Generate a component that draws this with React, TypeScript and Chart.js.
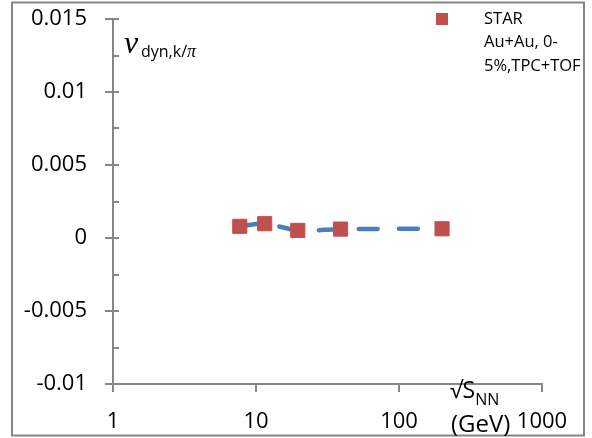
import { useEffect, useRef } from "react";
import { Chart, registerables } from "chart.js";

Chart.register(...registerables);

// ---- data ----
const energies = [7.7, 11.5, 19.6, 39, 200];
const nuDyn = [0.0008, 0.00098, 0.00052, 0.00061, 0.00063];
const xTicks = [1, 10, 100, 1000];
const xTickLabels = ["1", "10", "100", "1000"];
const yTicks = [-0.01, -0.005, 0, 0.005, 0.01, 0.015];
const yTickLabels = ["-0.01", "-0.005", "0", "0.005", "0.01", "0.015"];
const legendLines = ["STAR", "Au+Au, 0-", "5%,TPC+TOF"];

const AXIS = "#868686";
const RED = "#c0504d";
const BLUE = "#4a7ebb";
const FONT = "'Open Sans', 'Liberation Sans', sans-serif";

const decor = {
  id: "decor",
  beforeDatasetsDraw(chart: any) {
    const ctx = chart.ctx;
    const ys = chart.scales.y;
    const ax = chart.scales.x.left;
    ctx.save();
    ctx.strokeStyle = AXIS;
    ctx.lineWidth = 2;
    const drawTick = (v: number, x0: number) => {
      const py = Math.round(ys.getPixelForValue(v));
      ctx.beginPath();
      ctx.moveTo(x0, py);
      ctx.lineTo(ax + 6, py);
      ctx.stroke();
    };
    yTicks.forEach((v) => drawTick(v, ax - 8));
    for (let i = 0; i < yTicks.length - 1; i++) {
      drawTick((yTicks[i] + yTicks[i + 1]) / 2, ax);
    }
    ctx.restore();
  },
  afterDraw(chart: any) {
    const ctx = chart.ctx;
    ctx.save();
    // outer border
    ctx.strokeStyle = AXIS;
    ctx.lineWidth = 2;
    ctx.strokeRect(12, 2.5, 572, 433);

    // legend
    ctx.fillStyle = RED;
    ctx.fillRect(436, 13, 12, 12);
    ctx.fillStyle = "#000";
    ctx.font = `16.5px ${FONT}`;
    ctx.textBaseline = "middle";
    ctx.textAlign = "left";
    legendLines.forEach((t, i) => ctx.fillText(t, 484, 19 + i * 23.7));

    // y title
    ctx.textBaseline = "alphabetic";
    ctx.font = "italic 32px 'Liberation Serif', serif";
    ctx.fillText("\u03BD", 124, 53);
    ctx.font = `16px ${FONT}`;
    ctx.fillText("dyn,k/", 141, 57);
    const w = ctx.measureText("dyn,k/").width;
    ctx.font = "italic 18px 'Liberation Serif', serif";
    ctx.fillText("\u03C0", 141 + w, 57);

    // x title
    ctx.font = `23px ${FONT}`;
    ctx.fillText("\u221AS", 450, 398);
    const w2 = ctx.measureText("\u221AS").width;
    ctx.font = `16px ${FONT}`;
    ctx.fillText("NN", 450 + w2, 405);
    ctx.font = `24px ${FONT}`;
    ctx.fillText("(GeV)", 451, 432);
    ctx.restore();
  },
};

export default function App() {
  const ref = useRef<HTMLCanvasElement | null>(null);
  useEffect(() => {
    if (!ref.current) return;
    const pts = energies.map((e, i) => ({ x: e, y: nuDyn[i] }));
    const chart = new Chart(ref.current, {
      type: "scatter",
      data: {
        datasets: [
          {
            label: "STAR Au+Au, 0-5%,TPC+TOF",
            data: pts,
            showLine: false,
            pointStyle: "rect",
            pointRadius: 10,
            pointBackgroundColor: RED,
            pointBorderColor: RED,
            pointBorderWidth: 1,
            order: 0,
          },
          {
            label: "curve",
            data: pts,
            showLine: true,
            pointRadius: 0,
            borderColor: BLUE,
            borderWidth: 4.5,
            borderDash: [19, 21],
            borderCapStyle: "round",
            tension: 0.3,
            order: 1,
          },
        ],
      },
      options: {
        responsive: false,
        animation: false,
        layout: { padding: { top: 19, right: 50, left: 0, bottom: 0 } },
        plugins: { legend: { display: false }, tooltip: { enabled: false } },
        scales: {
          x: {
            type: "logarithmic",
            min: 1,
            max: 1000,
            afterBuildTicks: (s: any) => {
              s.ticks = xTicks.map((v) => ({ value: v }));
            },
            afterFit: (s: any) => {
              s.height = 54;
            },
            ticks: {
              autoSkip: false,
              maxRotation: 0,
              padding: 17,
              color: "#000",
              font: { family: FONT, size: 22 },
              callback: (v: any) => xTickLabels[xTicks.indexOf(Number(v))] ?? "",
            },
            grid: {
              drawOnChartArea: false,
              drawTicks: true,
              tickLength: 8,
              color: AXIS,
              lineWidth: 2,
            },
            border: { display: true, color: AXIS, width: 2 },
          },
          y: {
            type: "linear",
            min: -0.01,
            max: 0.015,
            afterBuildTicks: (s: any) => {
              s.ticks = yTicks.map((v) => ({ value: v }));
            },
            afterFit: (s: any) => {
              s.width = 113;
            },
            ticks: {
              padding: 0,
              color: "#000",
              font: { family: FONT, size: 22 },
              callback: (v: any) => yTickLabels[yTicks.indexOf(Number(v))] ?? "",
            },
            grid: {
              drawOnChartArea: false,
              drawTicks: true,
              tickLength: 26,
              color: "rgba(0,0,0,0)",
              lineWidth: 2,
            },
            border: { display: true, color: AXIS, width: 2 },
          },
        },
      },
      plugins: [decor],
    });
    return () => chart.destroy();
  }, []);
  return (
    <div style={{ position: "absolute", left: 0, top: 0, width: 592, height: 438, background: "#fff" }}>
      <canvas ref={ref} width={592} height={438} />
    </div>
  );
}
